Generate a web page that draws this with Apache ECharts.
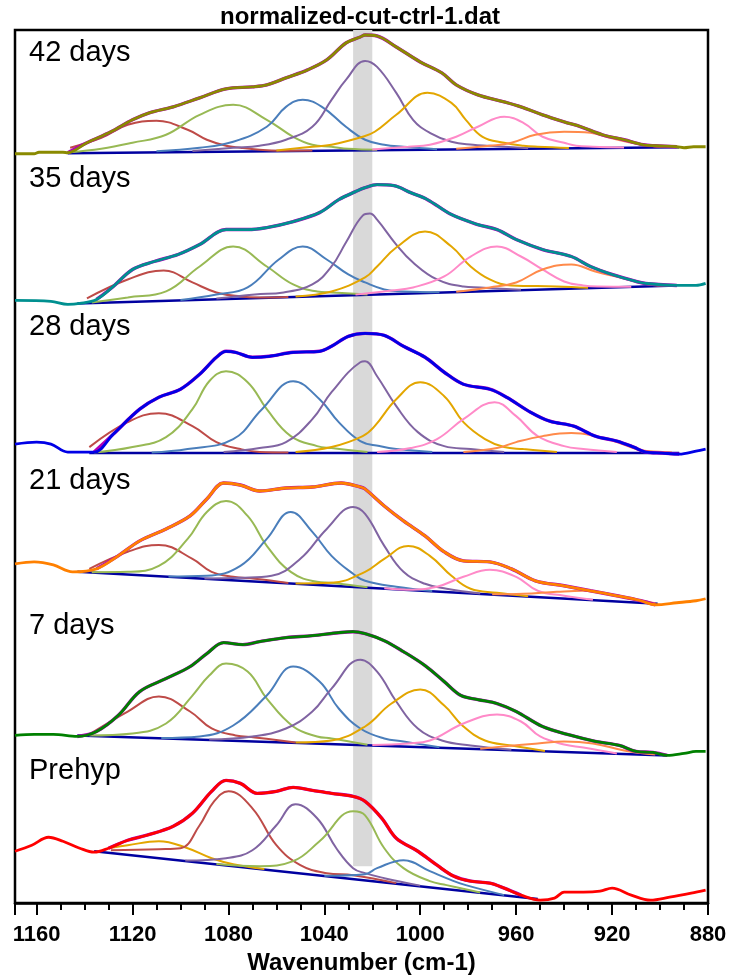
<!DOCTYPE html>
<html><head><meta charset="utf-8">
<script src="https://cdn.jsdelivr.net/npm/echarts/dist/echarts.min.js"></script>
<style>html,body{margin:0;padding:0;background:#fff}#c{width:730px;height:980px}</style>
</head><body><div id="c"></div>
<script>
// ---------- data (x = wavenumber cm-1, y = intensity, arbitrary units) ----------
const titleText = 'normalized-cut-ctrl-1.dat';
const xTickLabels = [1160, 1120, 1080, 1040, 1000, 960, 920, 880];
const panelLabels = ['42 days', '35 days', '28 days', '21 days', '7 days', 'Prehyp'];
const fitRanges = [[1147, 892], [1139, 893], [1138, 892], [1139, 901], [1143, 897], [1130, 951]];

// 42 days
const p42_spec = [[1169,1],[1161,1],[1159,2.5],[1149,2.5],[1147,2],[1139,12],[1129,23],[1120,35],[1113,42],[1103,48],[1092,57],[1081,66],[1070,68],[1064,70],[1056,77],[1047,85],[1039,95],[1031,112],[1025,118],[1023,120],[1018,119],[1010,108],[1000,93],[991,82],[985,70],[976,60],[965,53],[958,48],[949,40],[940,33],[933,28],[924,20],[915,15],[907,10],[902,9],[893,8],[890,7],[886,8],[881,8]];
const p42_base = [[1147,1.5],[892,7.5]];
const p42_brown = [[1146,7],[1133,17],[1122,30],[1110,34],[1097,25],[1089,15],[1081,9],[1075,7],[1067,5],[1059,4],[1045,4.2]];
const p42_green = [[1146,2.5],[1133,6],[1120,12],[1106,20],[1092,40],[1078,50],[1064,35],[1053,18],[1045,10],[1037,8],[1030,6],[1018,5]];
const p42_blue = [[1110,3.5],[1092,7],[1078,13],[1064,28],[1056,48],[1049,55],[1041,48],[1031,28],[1023,15],[1015,10],[1007,8],[993,5.5]];
const p42_purple = [[1095,3.8],[1078,7],[1067,9],[1056,15],[1045,28],[1037,55],[1031,75],[1023,94],[1018,88],[1010,62],[1003,35],[996,22],[987,13],[978,10],[971,9],[955,6.5]];
const p42_gold = [[1060,4.3],[1045,8],[1037,10],[1024,18],[1019,23],[1010,40],[997,62],[987,52],[981,35],[974,18],[965,12],[957,9],[951,8],[938,6.8]];
const p42_pink = [[1020,5.3],[1005,8],[996,10],[985,18],[976,28],[965,38],[957,32],[949,18],[940,12],[935,9],[928,8],[915,7.3]];
const p42_orange = [[985,6],[971,9],[962,12],[952,20],[940,23],[929,22],[921,17],[912,12],[904,9],[899,8],[892,7.8]];

// 35 days
const p35_spec = [[1169,4],[1154,3],[1147,0],[1142,1],[1135,5],[1128,18],[1120,35],[1111,43],[1101,50],[1092,60],[1081,75],[1072,75],[1064,77],[1053,83],[1042,92],[1034,105],[1027,113],[1023,117],[1018,120],[1011,119],[1004,112],[997,105],[987,90],[976,80],[968,75],[960,65],[949,55],[937,48],[929,38],[920,30],[910,23],[906,21],[893,19],[885,19],[881,21]];
const p35_base = [[1143,1],[893,19]];
const p35_brown = [[1139,6],[1122,25],[1107,34],[1095,22],[1085,12],[1075,8],[1067,7],[1055,7.5]];
const p35_green = [[1137,1.8],[1122,7],[1106,13],[1092,38],[1078,58],[1064,38],[1053,20],[1043,13],[1037,12],[1022,10]];
const p35_blue = [[1100,4.5],[1085,10],[1072,17],[1059,45],[1049,58],[1039,45],[1030,30],[1023,22],[1015,15],[1007,13],[992,12.2]];
const p35_purple = [[1085,5.8],[1069,10],[1057,12],[1045,20],[1037,38],[1031,62],[1024,89],[1021,91],[1018,85],[1010,60],[1003,42],[993,25],[982,18],[975,17],[958,14.6]];
const p35_gold = [[1052,8],[1037,13],[1023,27],[1018,38],[1010,57],[998,73],[987,58],[979,38],[971,25],[962,19],[943,18],[930,16.6]];
const p35_pink = [[1027,9.8],[1012,14],[1003,17],[990,28],[979,48],[968,58],[958,48],[949,35],[940,23],[932,19],[926,18],[912,17.8]];
const p35_orange = [[985,12.8],[971,17],[960,22],[949,35],[937,40],[927,33],[915,26],[907,21],[901,19],[893,19.1]];

// 28 days
const p28_spec = [[1169,10],[1160,12],[1154,10],[1147,2],[1136,2],[1128,20],[1117,45],[1109,57],[1100,65],[1092,80],[1085,97],[1081,103],[1077,102],[1070,97],[1063,98],[1053,102],[1042,103],[1037,108],[1030,118],[1023,121],[1015,119],[1007,108],[998,97],[990,82],[982,70],[971,65],[964,57],[954,42],[946,33],[936,28],[927,18],[918,13],[911,7],[906,2],[899,1],[892,0],[885,3],[881,5]];
const p28_base = [[1138,1],[892,1]];
const p28_brown = [[1138,7],[1122,32],[1109,41],[1095,28],[1085,12],[1075,5],[1067,2],[1055,1.5]];
const p28_green = [[1136,1.5],[1120,7],[1106,17],[1095,45],[1088,73],[1081,83],[1072,72],[1064,45],[1054,18],[1043,8],[1037,6],[1022,2]];
const p28_blue = [[1112,1.5],[1097,5],[1078,15],[1066,45],[1053,73],[1042,55],[1034,32],[1025,13],[1017,8],[1010,5],[995,2]];
const p28_purple = [[1082,2],[1067,6],[1056,12],[1045,35],[1037,62],[1025,92],[1023,93],[1018,78],[1010,48],[1001,22],[990,8],[979,5],[965,2]];
const p28_gold = [[1052,2],[1037,7],[1024,18],[1019,28],[1010,55],[1000,72],[990,58],[982,32],[973,15],[965,7],[957,5],[943,2]];
const p28_pink = [[1018,2],[1004,6],[993,15],[982,35],[969,52],[960,38],[951,18],[940,8],[932,5],[918,2]];
const p28_orange = [[982,2],[968,6],[960,12],[949,18],[937,21],[927,18],[918,12],[910,5],[905,3],[895,1.5]];

// 21 days
const p21_spec = [[1169,45],[1161,47],[1153,44],[1145,37],[1135,40],[1126,53],[1117,68],[1106,80],[1096,93],[1089,110],[1082,126],[1075,124],[1067,118],[1056,121],[1045,122],[1033,126],[1025,122],[1023,120],[1015,103],[1007,88],[998,73],[990,57],[982,48],[971,47],[962,40],[952,28],[940,23],[929,18],[918,13],[908,8],[902,4],[893,6],[885,8],[881,10]];
const p21_base = [[1143,37],[901,5]];
const p21_brown = [[1138,40],[1122,57],[1109,64],[1095,50],[1087,37],[1078,32],[1069,30],[1055,25.8]];
const p21_green = [[1137,36.6],[1122,37],[1109,43],[1097,70],[1089,97],[1081,108],[1072,93],[1064,63],[1054,37],[1043,27],[1037,26],[1022,21.5]];
const p21_blue = [[1105,32.3],[1089,33],[1075,43],[1064,70],[1054,97],[1045,77],[1037,53],[1028,35],[1023,28],[1010,22],[995,17.9]];
const p21_purple = [[1090,30.4],[1075,31],[1062,33],[1050,50],[1039,80],[1028,102],[1023,95],[1015,63],[1007,37],[998,25],[989,20],[975,15.2]];
const p21_gold = [[1052,25.4],[1037,26],[1023,37],[1015,50],[1005,63],[996,53],[987,33],[979,20],[968,16],[955,12.5]];
const p21_pink = [[1015,20.5],[1003,19],[993,22],[982,32],[971,39],[960,32],[951,18],[940,13],[928,9]];
const p21_orange = [[970,14.4],[957,15],[943,17],[932,18],[922,15],[912,10],[902,5.6]];

// 7 days
const p7_spec = [[1169,23],[1161,24],[1153,24],[1143,22],[1135,27],[1126,43],[1117,67],[1106,80],[1096,92],[1089,105],[1082,116],[1074,114],[1067,117],[1056,121],[1045,123],[1034,126],[1028,127],[1023,125],[1015,118],[1007,107],[998,93],[990,77],[983,63],[976,59],[968,55],[960,47],[949,32],[937,23],[927,17],[917,13],[910,7],[903,6],[897,3],[890,5],[885,7],[881,7]];
const p7_base = [[1143,23],[897,3]];
const p7_brown = [[1138,24],[1122,47],[1109,62],[1096,47],[1087,30],[1077,23],[1069,21],[1052,16]];
const p7_green = [[1138,23],[1120,25],[1106,35],[1095,63],[1088,83],[1081,95],[1072,87],[1064,60],[1053,32],[1043,22],[1037,20],[1022,13.6]];
const p7_blue = [[1108,20.5],[1092,22],[1078,33],[1064,63],[1053,92],[1042,77],[1034,50],[1025,30],[1015,20],[1007,17],[992,11.1]];
const p7_purple = [[1088,19],[1070,22],[1056,30],[1045,47],[1037,70],[1025,99],[1018,87],[1010,57],[1001,30],[991,18],[979,13],[962,8.7]];
const p7_gold = [[1052,16],[1037,18],[1023,32],[1012,55],[1000,69],[990,53],[982,32],[973,18],[962,13],[948,7.5]];
const p7_pink = [[1020,13.4],[1005,15],[996,18],[982,35],[968,44],[958,37],[950,22],[940,14],[932,11],[918,5]];
const p7_orange = [[975,9.6],[961,13],[951,15],[940,17],[928,15],[915,8],[902,3.8]];

// Prehyp
const pP_spec = [[1169,52],[1162,58],[1155,66],[1149,62],[1142,55],[1136,51],[1130,55],[1122,63],[1114,68],[1103,77],[1095,90],[1087,112],[1081,123],[1075,120],[1068,110],[1060,112],[1053,116],[1045,113],[1037,110],[1028,107],[1023,102],[1016,85],[1010,65],[1001,52],[993,38],[986,27],[979,22],[971,20],[965,15],[958,8],[950,3],[944,5],[940,11],[932,11],[925,12],[920,15],[912,8],[904,3],[896,6],[887,10],[881,13]];
const pP_base = [[1136,52],[951,4]];
const pP_gold = [[1130,55],[1122,58],[1109,62],[1097,55],[1087,45],[1078,39],[1065,34.2]];
const pP_brown = [[1129,53],[1109,54],[1100,55],[1092,78],[1086,102],[1080,112],[1070,95],[1060,58],[1050,38],[1039,30],[1028,28],[1010,20]];
const pP_purple = [[1098,42.6],[1081,45],[1070,53],[1060,78],[1052,99],[1043,85],[1035,55],[1028,35],[1023,30],[1015,25],[1000,17.5]];
const pP_green = [[1085,39.2],[1067,37],[1053,42],[1042,62],[1028,92],[1023,88],[1015,55],[1007,35],[996,22],[989,18],[975,10.6]];
const pP_blue = [[1040,27.5],[1023,29],[1018,35],[1007,43],[996,32],[987,23],[981,18],[965,8]];

const bandRange = [1028, 1020];

// ---------- styling / layout ----------
const FONT = '"Liberation Sans", Arial, Helvetica, sans-serif';
const C = {
  brown: '#BE4B48', green: '#98B954', blue: '#4A7EBB', purple: '#8064A2',
  gold: '#E3A600', pink: '#FF8AC8', orange: '#FF8A4A',
  base: '#0000A0', fit: '#B000B8'
};
const specColors = ['#8A8A00', '#009090', '#0000E6', '#FF8000', '#008000', '#FF0000'];
const panelPeaks = [
  [[p42_brown,'brown'],[p42_green,'green'],[p42_blue,'blue'],[p42_purple,'purple'],[p42_gold,'gold'],[p42_pink,'pink'],[p42_orange,'orange']],
  [[p35_brown,'brown'],[p35_green,'green'],[p35_blue,'blue'],[p35_purple,'purple'],[p35_gold,'gold'],[p35_pink,'pink'],[p35_orange,'orange']],
  [[p28_brown,'brown'],[p28_green,'green'],[p28_blue,'blue'],[p28_purple,'purple'],[p28_gold,'gold'],[p28_pink,'pink'],[p28_orange,'orange']],
  [[p21_brown,'brown'],[p21_green,'green'],[p21_blue,'blue'],[p21_purple,'purple'],[p21_gold,'gold'],[p21_pink,'pink'],[p21_orange,'orange']],
  [[p7_brown,'brown'],[p7_green,'green'],[p7_blue,'blue'],[p7_purple,'purple'],[p7_gold,'gold'],[p7_pink,'pink'],[p7_orange,'orange']],
  [[pP_gold,'gold'],[pP_brown,'brown'],[pP_purple,'purple'],[pP_green,'green'],[pP_blue,'blue']]
];
const panelSpec = [p42_spec, p35_spec, p28_spec, p21_spec, p7_spec, pP_spec];
const panelBase = [p42_base, p35_base, p28_base, p21_base, p7_base, pP_base];

const GRID_TOP = 30, GRID_BOTTOM = 905, GRID_LEFT = 15, GRID_RIGHT_PX = 708;
const zeroPx = [155, 305, 455, 610, 760, 905];       // pixel row of each panel's zero
const labelY = [53, 179, 327, 481, 626, 771];

const yAxes = zeroPx.map(z => ({
  type: 'value', gridIndex: 0, show: false,
  min: -(GRID_BOTTOM - z), max: z - GRID_TOP
}));

const series = [];
// grey band
series.push({
  type: 'line', xAxisIndex: 0, yAxisIndex: 5, data: [], silent: true, z: 1,
  markArea: { silent: true, itemStyle: { color: '#D9D9D9' },
    data: [[{ xAxis: bandRange[0], yAxis: GRID_BOTTOM - 868 }, { xAxis: bandRange[1], yAxis: GRID_BOTTOM - GRID_TOP }]] }
});
const lineBase = { type: 'line', xAxisIndex: 0, showSymbol: false, symbol: 'none', silent: true, animation: false };
for (let i = 0; i < 6; i++) {
  series.push(Object.assign({}, lineBase, { yAxisIndex: i, data: panelBase[i], z: 2,
    lineStyle: { color: C.base, width: 2.5 } }));
  panelPeaks[i].forEach(([d, c]) => {
    series.push(Object.assign({}, lineBase, { yAxisIndex: i, data: d, smooth: 0.42, z: 3,
      lineStyle: { color: C[c], width: 2 } }));
  });
  const fr = fitRanges[i];
  const fitData = panelSpec[i].filter(p => p[0] <= fr[0] && p[0] >= fr[1]);
  series.push(Object.assign({}, lineBase, { yAxisIndex: i, data: fitData, smooth: 0.35, z: 4,
    lineStyle: { color: C.fit, width: 3.4 } }));
  series.push(Object.assign({}, lineBase, { yAxisIndex: i, data: panelSpec[i], smooth: 0.35, z: 5,
    lineStyle: { color: specColors[i], width: 2.8 } }));
}

const graphic = [{
  type: 'text', x: 360, y: 17, z: 10,
  style: { text: titleText, font: 'bold 24px ' + FONT, fill: '#000', align: 'center', verticalAlign: 'middle', textAlign: 'center', textVerticalAlign: 'middle' }
}];
panelLabels.forEach((t, i) => graphic.push({
  type: 'text', x: 29, y: labelY[i], z: 10,
  style: { text: t, font: '29px ' + FONT, fill: '#000', verticalAlign: 'middle', textVerticalAlign: 'middle' }
}));

const chart = echarts.init(document.getElementById('c'), null, { renderer: 'canvas' });
chart.setOption({
  animation: false,
  backgroundColor: '#fff',
  grid: { show: true, left: GRID_LEFT, right: 730 - GRID_RIGHT_PX, top: GRID_TOP, bottom: 980 - GRID_BOTTOM,
    borderColor: '#000', borderWidth: 2.5, backgroundColor: 'transparent' },
  xAxis: [{
    type: 'value', gridIndex: 0, min: 880, max: 1169, interval: 40, inverse: true, position: 'bottom',
    axisLine: { show: true, onZero: false, lineStyle: { color: '#000', width: 2.5 } },
    axisTick: { show: true, length: 12, lineStyle: { color: '#000', width: 2 } },
    splitLine: { show: false },
    axisLabel: { show: true, margin: 21, color: '#000', fontSize: 22, fontWeight: 'bold', fontFamily: FONT,
      formatter: v => (xTickLabels.indexOf(v) >= 0 ? String(v) : '') },
    name: 'Wavenumber (cm-1)', nameLocation: 'middle', nameGap: 47,
    nameTextStyle: { color: '#000', fontSize: 24, fontWeight: 'bold', fontFamily: FONT }
  }, {
    type: 'value', gridIndex: 0, min: 880, max: 1169, interval: 10, inverse: true, position: 'bottom',
    axisLine: { show: false, onZero: false },
    axisTick: { show: true, length: 7, lineStyle: { color: '#000', width: 2 } },
    axisLabel: { show: false }, splitLine: { show: false }
  }],
  yAxis: yAxes,
  graphic: graphic,
  series: series
});
</script></body></html>
